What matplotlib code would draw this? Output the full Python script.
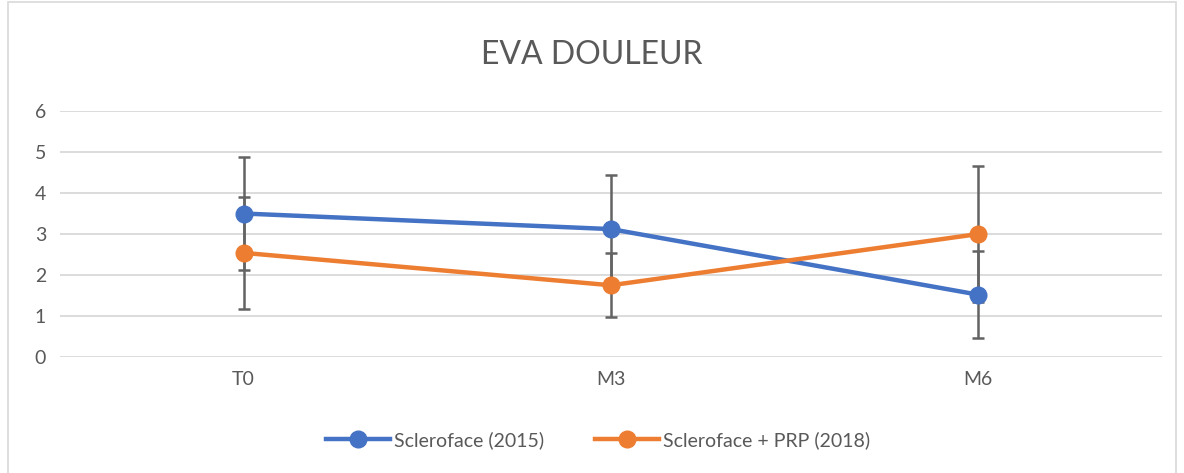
import matplotlib.pyplot as plt
from matplotlib.lines import Line2D
from matplotlib.patches import Rectangle

plt.rcParams['font.family'] = ['Lato', 'DejaVu Sans']

# Données
categories = ["T0", "M3", "M6"]
scleroface = [3.5, 3.12, 1.52]
scleroface_err = [1.37, 1.33, 1.06]
prp = [2.54, 1.75, 3.0]
prp_err = [1.37, 0.78, 1.66]
series_labels = ["Scleroface (2015)", "Scleroface + PRP (2018)"]

blue = "#4472C4"
orange = "#ED7D31"
grey_err = "#636363"

fig = plt.figure(figsize=(11.84, 4.73), dpi=100)
ax = fig.add_axes([0.0507, 0.2452, 0.9307, 0.5201])

x = list(range(len(categories)))

ax.errorbar(x, scleroface, yerr=scleroface_err, color=blue, lw=3.2,
            marker="o", ms=12, ecolor=grey_err, elinewidth=1.8,
            capsize=4.5, capthick=1.8, zorder=3)
ax.errorbar(x, prp, yerr=prp_err, color=orange, lw=3.2,
            marker="o", ms=12, ecolor=grey_err, elinewidth=1.8,
            capsize=4.5, capthick=1.8, zorder=3)

ax.set_xlim(-0.5, 2.5)
ax.set_ylim(0, 6)
ax.set_yticks(range(0, 7))
ax.set_xticks(x)
ax.set_xticklabels(categories)
ax.tick_params(axis="both", length=0, labelsize=14, colors="#595959", pad=10)
ax.grid(axis="y", color="#d9d9d9", lw=1.3)
ax.set_axisbelow(True)
for s in ax.spines.values():
    s.set_visible(False)

fig.suptitle("EVA DOULEUR", y=0.915, fontsize=23, color="#595959")

# Légende (lignes simples, sans barres d'erreur)
handles = [Line2D([], [], color=c, lw=3.2, marker="o", ms=12) for c in (blue, orange)]
fig.legend(handles, series_labels, loc="center", bbox_to_anchor=(0.505, 0.07), ncol=2,
           frameon=False, fontsize=14, labelcolor="#595959",
           handlelength=3.3, columnspacing=2.6, handletextpad=0.2)

# Cadre du graphique
fig.patches.append(Rectangle((0.007, -0.01), 0.986, 1.005, transform=fig.transFigure,
                             fill=False, edgecolor="#d9d9d9", lw=1.2))

fig.savefig("out.png", dpi=100)
